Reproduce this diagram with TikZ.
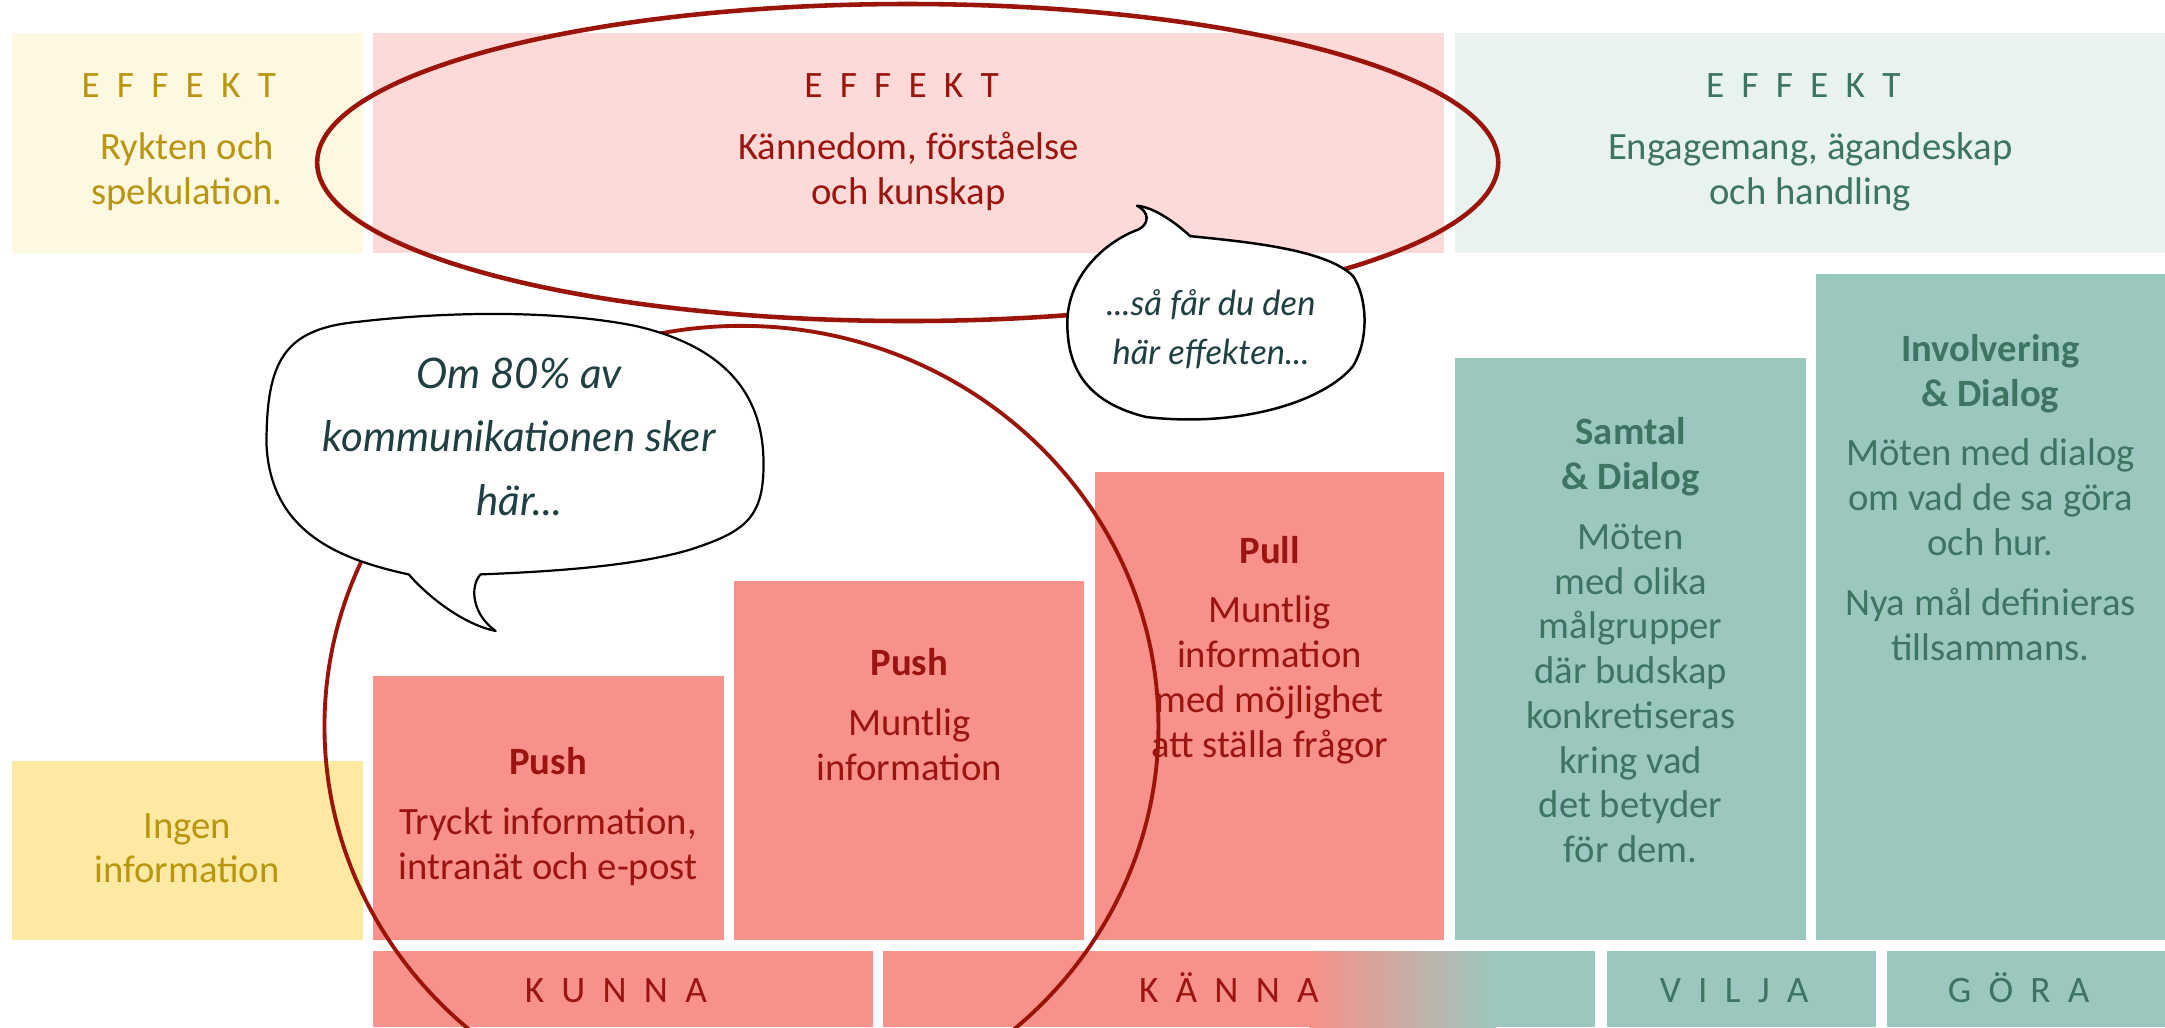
\documentclass[tikz,border=0pt]{standalone}
\usepackage{fontspec}
\setmainfont{Carlito}
\newfontfamily\hand{Lato}
\definecolor{ylight}{HTML}{FFF8E1}
\definecolor{ymid}{HTML}{FDE9A2}
\definecolor{ytext}{HTML}{B8960F}
\definecolor{plight}{HTML}{FDDAD8}
\definecolor{pmid}{HTML}{F8918A}
\definecolor{ptext}{HTML}{9B1510}
\definecolor{tlight}{HTML}{E8F3F0}
\definecolor{tmid}{HTML}{9BC8BE}
\definecolor{ttext}{HTML}{3D7462}
\definecolor{ring}{HTML}{9B140A}
\definecolor{btext}{HTML}{1F3F42}
\newcommand\g{\kern 12.5pt}
\tikzset{
  body/.style={inner sep=0pt, align=center, anchor=north, font=\fontsize{28}{32.4}\selectfont},
  label/.style={inner sep=0pt, anchor=base, font=\fontsize{27}{30}\selectfont},
  ringline/.style={draw=ring, line width=2.4pt},
  bubble/.style={draw=black, fill=white, line width=1.8pt, line join=round},
  btxt/.style={inner sep=0pt, align=center, anchor=north, text=btext}
}
\begin{document}
\begin{tikzpicture}[x=1pt,y=-1pt]
\useasboundingbox (0,0) rectangle (1568,744);
\fill[white] (0,0) rectangle (1568,744);
% top row
\fill[ylight] (8.6,24) rectangle (262.7,183.5);
\fill[plight] (270.3,24) rectangle (1045.8,183.5);
\fill[tlight] (1053.8,24) rectangle (1568,183.5);
% middle
\fill[ymid] (8.6,551) rectangle (262.7,681);
\fill[pmid] (270.3,489.4) rectangle (524.3,681);
\fill[pmid] (531.8,421) rectangle (785.3,681);
\fill[pmid] (792.8,341.6) rectangle (1045.8,681);
\fill[tmid] (1053.8,259.5) rectangle (1307.7,681);
\fill[tmid] (1315.3,198.5) rectangle (1568,681);
% bottom
\fill[pmid] (270.3,689) rectangle (632,744);
\fill[pmid] (639.5,689) rectangle (949,744);
\shade[left color=pmid, right color=tmid] (948.5,689) rectangle (1083.5,744);
\fill[tmid] (1083,689) rectangle (1155.5,744);
\fill[tmid] (1163.5,689) rectangle (1359,744);
\fill[tmid] (1367,689) rectangle (1568,744);

% labels
\node[label, text=ytext] (e1) at (129.5,70.5) {E\g F\g F\g E\g K\g T};
\node[label, text=ptext] (e2) at (653,70.5) {E\g F\g F\g E\g K\g T};
\node[label, text=ttext] (e3) at (1306,70.5) {E\g F\g F\g E\g K\g T};
\node[label, text=ptext] (l1) at (446,726) {K\g U\g N\g N\g A};
\node[label, text=ptext] (l2) at (890,726) {K\g Ä\g N\g N\g A};
\node[label, text=ttext] (l3) at (1256,726) {V\g I\g L\g J\g A};
\node[label, text=ttext] (l4) at (1462,726) {G\g Ö\g R\g A};

% body texts
\node[body, text=ytext] (t1) at (135.5,115.5-22.7) {\strut Rykten och\\spekulation.};
\node[body, text=ptext] (t2) at (658,115.5-22.7) {\strut Kännedom, förståelse\\och kunskap};
\node[body, text=ttext] (t3) at (1311,115.5-22.7) {\strut Engagemang, ägandeskap\\och handling};
\node[body, text=ytext] (t4) at (135.5,606.8-22.7) {\strut Ingen\\information};
\node[body, text=ptext] (t5) at (397,560.9-22.7) {\strut\textbf{Push}\\[11pt]Tryckt information,\\intranät och e-post};
\node[body, text=ptext] (t6) at (658.5,489-22.7) {\strut\textbf{Push}\\[11pt]Muntlig\\information};
\node[body, text=ptext] (t7) at (919.5,407.6-22.7) {\strut\textbf{Pull}\\[11pt]Muntlig\\information\\med möjlighet\\att ställa frågor};
\node[body, text=ttext] (t8) at (1181,322-22.7) {\strut\textbf{Samtal}\\\textbf{\& Dialog}\\[11pt]Möten\\med olika\\målgrupper\\där budskap\\konkretiseras\\kring vad\\det betyder\\för dem.};
\node[body, text=ttext] (t9) at (1441.5,261.5-22.7) {\strut\textbf{Involvering}\\\textbf{\& Dialog}\\[11pt]Möten med dialog\\om vad de sa göra\\och hur.\\[11pt]Nya mål definieras\\tillsammans.};

% rings
\draw[ringline, line width=3.3pt] (657.4,117.7) ellipse [x radius=427.7, y radius=114.8];
\draw[ringline, line width=2.8pt] (537,526) ellipse [x radius=302, y radius=290];

% bubble 2
\draw[bubble] (825,166) .. controls (800,175) and (773,200) .. (773,234)
  .. controls (773,270) and (790,292) .. (830,302)
  .. controls (900,310) and (960,290) .. (980,265)
  .. controls (992,245) and (990,215) .. (980,200)
  .. controls (960,180) and (900,175) .. (862,171)
  .. controls (850,160) and (835,150) .. (823.5,149)
  .. controls (833,154) and (832,162) .. (825,166) -- cycle;
% bubble 1
\draw[bubble, line width=1.6pt] (296,416) .. controls (245,405) and (196,385) .. (193,322)
  .. controls (193,262) and (205,238) .. (260,233)
  .. controls (320,226) and (400,224) .. (460,236)
  .. controls (530,252) and (553,290) .. (553,336)
  .. controls (553,375) and (540,385) .. (500,398)
  .. controls (460,410) and (400,414) .. (348,416)
  .. controls (340,425) and (342,445) .. (359,457)
  .. controls (335,452) and (310,432) .. (296,416) -- cycle;

\node[btxt, font=\hand\itshape\fontsize{30.5}{46}\selectfont] (b1) at (376,281-32.2) {\strut Om 80\% av\\kommunikationen sker\\här...};
\node[btxt, font=\hand\itshape\fontsize{25}{36}\selectfont] (b2) at (877,228-25.2) {\strut ...så får du den\\här effekten...};
\end{tikzpicture}
\end{document}
